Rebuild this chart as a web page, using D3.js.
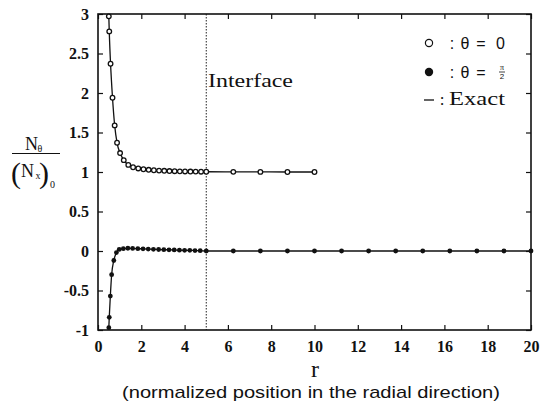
<!DOCTYPE html>
<html><head><meta charset="utf-8">
<script src="https://cdn.jsdelivr.net/npm/d3@7"></script>
<style>html,body{margin:0;padding:0;background:#fff;}svg{display:block;}</style>
</head><body>
<svg id="chart" width="544" height="411"></svg>
<script>
// ---- data ----
const rTheta0 = [0.5, 0.52, 0.58, 0.67, 0.77, 0.88, 1.02, 1.19, 1.4, 1.62, 1.86, 2.1, 2.34, 2.58, 2.82, 3.06, 3.3, 3.54, 3.78, 4.02, 4.27, 4.51, 4.76, 5.0, 6.25, 7.5, 8.75, 10];
const nTheta0 = [2.97, 2.78, 2.37, 1.94, 1.59, 1.37, 1.24, 1.15, 1.09, 1.06, 1.045, 1.035, 1.028, 1.022, 1.018, 1.015, 1.012, 1.01, 1.008, 1.007, 1.006, 1.005, 1.004, 1.003, 1.002, 1.001, 1.0, 1.0];
const rTheta90 = [0.5, 0.52, 0.57, 0.63, 0.73, 0.85, 0.98, 1.17, 1.38, 1.6, 1.84, 2.08, 2.32, 2.56, 2.8, 3.04, 3.28, 3.52, 3.76, 4.0, 4.24, 4.48, 4.72, 5.0, 6.25, 7.5, 8.75, 10, 11.25, 12.5, 13.75, 15, 16.25, 17.5, 18.75, 20];
const nTheta90 = [-0.97, -0.84, -0.57, -0.30, -0.12, -0.02, 0.02, 0.03, 0.035, 0.033, 0.03, 0.027, 0.024, 0.021, 0.019, 0.017, 0.015, 0.013, 0.011, 0.009, 0.008, 0.006, 0.004, 0.0, 0.0, 0.0, 0.0, 0.0, 0.0, 0.0, 0.0, 0.0, 0.0, 0.0, 0.0, 0.0];
const xTicks = [0, 2, 4, 6, 8, 10, 12, 14, 16, 18, 20];
const yTicks = [-1, -0.5, 0, 0.5, 1, 1.5, 2, 2.5, 3];
const yTickLabels = ["-1", "-0.5", "0", "0.5", "1", "1.5", "2", "2.5", "3"];
const interfaceR = 5;

// ---- layout ----
const W = 544, H = 411;
const m = {left: 98, right: 13, top: 14, bottom: 81};
const svg = d3.select("#chart");
const x = d3.scaleLinear().domain([0, 20]).range([m.left, W - m.right]);
const y = d3.scaleLinear().domain([-1, 3]).range([H - m.bottom, m.top]);
const serif = "'Liberation Serif','Times New Roman',serif";
const sans = "'Liberation Sans',Arial,sans-serif";

// interface line
svg.append("line")
  .attr("x1", x(interfaceR)).attr("x2", x(interfaceR))
  .attr("y1", y(3)).attr("y2", y(-1))
  .attr("stroke", "#222").attr("stroke-width", 1).attr("stroke-dasharray", "1.5,1.5");

// axes (ticks inward)
const tickLen = 5;
const gB = svg.append("g").attr("transform", `translate(0,${y(-1)})`)
  .call(d3.axisBottom(x).tickValues(xTicks).tickSize(-tickLen).tickPadding(11).tickFormat(d3.format("d")));
const gT = svg.append("g").attr("transform", `translate(0,${y(3)})`)
  .call(d3.axisTop(x).tickValues(xTicks).tickSize(-tickLen).tickFormat(""));
const gL = svg.append("g").attr("transform", `translate(${x(0)},0)`)
  .call(d3.axisLeft(y).tickValues(yTicks).tickSize(-tickLen).tickPadding(9).tickFormat((d, i) => yTickLabels[i]));
const gR = svg.append("g").attr("transform", `translate(${x(20)},0)`)
  .call(d3.axisRight(y).tickValues(yTicks).tickSize(-tickLen).tickFormat(""));
[gB, gT, gL, gR].forEach(g => {
  g.select(".domain").remove();
  g.selectAll(".tick line").attr("stroke", "#111").attr("stroke-width", 1.2);
  g.selectAll(".tick text").attr("font-family", serif).attr("font-size", 16).attr("font-weight", "bold").attr("fill", "#111");
});

// frame
svg.append("rect").attr("x", x(0)).attr("y", y(3)).attr("width", x(20) - x(0)).attr("height", y(-1) - y(3))
  .attr("fill", "none").attr("stroke", "#111").attr("stroke-width", 1.6);

// exact lines
const lineGen = d3.line().x(d => x(d[0])).y(d => y(d[1])).curve(d3.curveMonotoneX);
const ptsTheta0 = rTheta0.map((r, i) => [r, nTheta0[i]]);
const ptsTheta90 = rTheta90.map((r, i) => [r, nTheta90[i]]);
svg.append("path").attr("d", lineGen(ptsTheta0)).attr("fill", "none").attr("stroke", "#111").attr("stroke-width", 1.3);
svg.append("path").attr("d", lineGen(ptsTheta90)).attr("fill", "none").attr("stroke", "#111").attr("stroke-width", 1.3);

// markers
svg.append("g").selectAll("circle").data(ptsTheta90).join("circle")
  .attr("cx", d => x(d[0])).attr("cy", d => y(d[1])).attr("r", 2.4).attr("fill", "#111");
svg.append("g").selectAll("circle").data(ptsTheta0).join("circle")
  .attr("cx", d => x(d[0])).attr("cy", d => y(d[1])).attr("r", 2.3)
  .attr("fill", "#fff").attr("stroke", "#111").attr("stroke-width", 1.3);

// Interface label
svg.append("text").attr("x", 208).attr("y", 87).attr("font-family", serif).attr("font-size", 19)
  .attr("textLength", 85).attr("lengthAdjust", "spacingAndGlyphs").attr("fill", "#111").text("Interface");

// legend
const lg = svg.append("g").attr("fill", "#111");
lg.append("circle").attr("cx", 429).attr("cy", 43).attr("r", 3.6).attr("fill", "#fff").attr("stroke", "#111").attr("stroke-width", 1.2);
lg.append("text").attr("x", 452).attr("y", 48.5).attr("text-anchor", "middle").attr("font-family", sans).attr("font-size", 16).text(":");
lg.append("text").attr("x", 465).attr("y", 48.5).attr("text-anchor", "middle").attr("font-family", sans).attr("font-size", 16).text("θ");
lg.append("text").attr("x", 481).attr("y", 48.5).attr("text-anchor", "middle").attr("font-family", sans).attr("font-size", 16).text("=");
lg.append("text").attr("x", 500.5).attr("y", 48.5).attr("text-anchor", "middle").attr("font-family", sans).attr("font-size", 16).text("0");

lg.append("circle").attr("cx", 429).attr("cy", 72).attr("r", 4.2).attr("fill", "#111");
lg.append("text").attr("x", 452).attr("y", 77.5).attr("text-anchor", "middle").attr("font-family", sans).attr("font-size", 16).text(":");
lg.append("text").attr("x", 465).attr("y", 77.5).attr("text-anchor", "middle").attr("font-family", sans).attr("font-size", 16).text("θ");
lg.append("text").attr("x", 481).attr("y", 77.5).attr("text-anchor", "middle").attr("font-family", sans).attr("font-size", 16).text("=");
lg.append("text").attr("x", 502).attr("y", 70).attr("text-anchor", "middle").attr("font-family", serif).attr("font-size", 8).text("π");
lg.append("line").attr("x1", 499).attr("x2", 505).attr("y1", 72).attr("y2", 72).attr("stroke", "#111").attr("stroke-width", 0.8);
lg.append("text").attr("x", 502).attr("y", 79).attr("text-anchor", "middle").attr("font-family", sans).attr("font-size", 8).text("2");

lg.append("line").attr("x1", 424).attr("x2", 434).attr("y1", 100).attr("y2", 100).attr("stroke", "#111").attr("stroke-width", 1.3);
lg.append("text").attr("x", 442).attr("y", 105).attr("text-anchor", "middle").attr("font-family", serif).attr("font-size", 17).text(":");
lg.append("text").attr("x", 449).attr("y", 105).attr("font-family", serif).attr("font-size", 18)
  .attr("textLength", 56).attr("lengthAdjust", "spacingAndGlyphs").text("Exact");

// y-axis label: N_θ / (N_x)_0
const yl = svg.append("g").attr("fill", "#111").attr("font-family", serif);
yl.append("text").attr("x", 25).attr("y", 150).attr("font-size", 18).text("N");
yl.append("text").attr("x", 37.5).attr("y", 152).attr("font-size", 10).text("θ");
yl.append("line").attr("x1", 12).attr("x2", 60).attr("y1", 153.5).attr("y2", 153.5).attr("stroke", "#111").attr("stroke-width", 1);
yl.append("text").attr("x", 11).attr("y", 183).attr("font-size", 30).text("(");
yl.append("text").attr("x", 21).attr("y", 177).attr("font-size", 18).text("N");
yl.append("text").attr("x", 35.5).attr("y", 179).attr("font-size", 10).text("x");
yl.append("text").attr("x", 39).attr("y", 183).attr("font-size", 30).text(")");
yl.append("text").attr("x", 50).attr("y", 188).attr("font-size", 10).text("0");

// x-axis labels
svg.append("text").attr("x", 315).attr("y", 377).attr("text-anchor", "middle").attr("font-family", serif)
  .attr("font-size", 24).attr("fill", "#111").text("r");
svg.append("text").attr("x", 122).attr("y", 398).attr("font-family", sans).attr("font-size", 17)
  .attr("textLength", 378).attr("lengthAdjust", "spacingAndGlyphs").attr("fill", "#111")
  .text("(normalized position in the radial direction)");
</script>
</body></html>
